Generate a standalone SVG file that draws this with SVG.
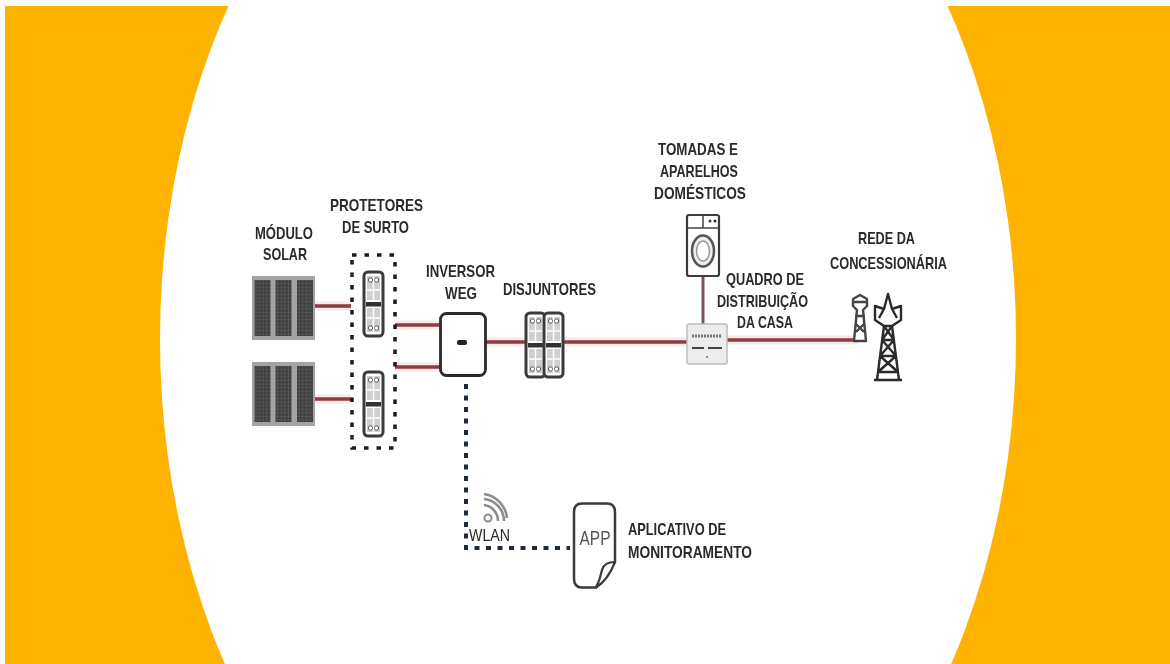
<svg xmlns="http://www.w3.org/2000/svg" width="1170" height="664" viewBox="0 0 1170 664">
<style>
.t{font-family:"Liberation Sans",Arial,sans-serif;font-size:17px;font-weight:700;fill:#2b2b2b;text-anchor:middle}
.red{stroke:#8f3a42;stroke-width:3.5;fill:none}
.halo{stroke:#f3dcdc;stroke-width:9;fill:none;opacity:.6}
.dot{stroke:#1d2b3a;stroke-width:4;fill:none;stroke-dasharray:5 6.5}
.thin{fill:none;stroke:#444;stroke-width:1.5}
</style>
<defs>
<filter id="soft" x="-5%" y="-5%" width="110%" height="110%"><feGaussianBlur stdDeviation="0.75"/></filter>
<pattern id="cells" width="3.6" height="3.6" patternUnits="userSpaceOnUse"><rect width="3.6" height="3.6" fill="#3f3f3f"/><path d="M0 0H3.6M0 0V3.6" stroke="#6a6a6a" stroke-width=".8"/></pattern>
<g id="panel">
<rect x="0" y="0" width="63" height="64" fill="#a3a3a3"/>
<rect x="2.500" y="4" width="16" height="56" fill="url(#cells)"/>
<rect x="23.500" y="4" width="16" height="56" fill="url(#cells)"/>
<rect x="45" y="4" width="16" height="56" fill="url(#cells)"/>
</g>
<g id="breaker">
<rect x="0" y="0" width="19" height="64" rx="4" fill="#fff" stroke="#3a3a3a" stroke-width="3"/>
<rect x="3" y="4" width="13" height="24" fill="#cfcfcf"/>
<rect x="3" y="36" width="13" height="24" fill="#cfcfcf"/>
<circle cx="6.500" cy="8" r="2.200" fill="#fff" stroke="#555"/>
<circle cx="12.500" cy="8" r="2.200" fill="#fff" stroke="#555"/>
<circle cx="6.500" cy="56" r="2.200" fill="#fff" stroke="#555"/>
<circle cx="12.500" cy="56" r="2.200" fill="#fff" stroke="#555"/>
<path d="M9.500 4V60M3 18H16M3 46H16" stroke="#fff" stroke-width="1.500"/>
<rect x="2" y="30" width="15" height="4.500" fill="#333"/>
</g>
</defs>
<rect width="1170" height="664" fill="#fff"/>
<rect id="band" x="5" y="6" width="1165" height="658" fill="#feb300"/>
<ellipse id="white-field" cx="588" cy="339" rx="428" ry="614" fill="#fff"/>
<rect width="1170" height="6" fill="#fff"/>
<g filter="url(#soft)">
<g id="connectors">
<path class="halo" d="M311 306H351M311 399H351M395 325H440M395 367H440M486 342H526M563 342H688M727 340H858"/>
<path class="red" d="M311 306H351M311 399H351M395 325H440M395 367H440M486 342H526M563 342H688M727 340H858"/>
<path d="M703 277V325" stroke="#7d5558" stroke-width="3" fill="none"/>
<path class="dot" d="M466 384V548H570"/>
</g>
<g id="modulo-solar">
<use href="#panel" x="252" y="276"/>
<use href="#panel" x="252" y="362"/>
<text class="t" x="284" y="239" textLength="58" lengthAdjust="spacingAndGlyphs">MÓDULO</text>
<text class="t" x="285" y="260" textLength="44" lengthAdjust="spacingAndGlyphs">SOLAR</text>
</g>
<g id="protetores">
<rect x="352" y="255" width="43" height="193" fill="none" stroke="#1a1a1a" stroke-width="3.500" stroke-dasharray="4.500 8"/>
<use href="#breaker" x="364" y="272"/>
<use href="#breaker" x="364" y="372"/>
<text class="t" x="376.500" y="211" textLength="93" lengthAdjust="spacingAndGlyphs">PROTETORES</text>
<text class="t" x="375.500" y="233" textLength="67" lengthAdjust="spacingAndGlyphs">DE SURTO</text>
</g>
<g id="inversor">
<rect x="440.500" y="313.500" width="45" height="62" rx="6" fill="#fff" stroke="#2c2c2c" stroke-width="2.800"/>
<rect x="457" y="340" width="10" height="5" rx="2" fill="#222"/>
<text class="t" x="460.500" y="277" textLength="69" lengthAdjust="spacingAndGlyphs">INVERSOR</text>
<text class="t" x="461" y="299" textLength="32" lengthAdjust="spacingAndGlyphs">WEG</text>
</g>
<g id="disjuntores">
<use href="#breaker" x="526" y="313"/>
<use href="#breaker" x="544" y="313"/>
<text class="t" x="549.500" y="295" textLength="93" lengthAdjust="spacingAndGlyphs">DISJUNTORES</text>
</g>
<g id="tomadas">
<rect x="687" y="215" width="32" height="61" rx="2" fill="#fff" stroke="#3a3a3a" stroke-width="2.200"/>
<path class="thin" d="M687 228H719M703 215V228"/>
<ellipse cx="703" cy="251" rx="11" ry="15.500" fill="#eee" stroke="#555" stroke-width="2.500"/>
<ellipse cx="703" cy="251" rx="6.500" ry="10" fill="#fff" stroke="#999" stroke-width="1.500"/>
<circle cx="710" cy="221" r="1.500" fill="#333"/>
<circle cx="715" cy="221" r="1.500" fill="#333"/>
<text class="t" x="698" y="155" textLength="80" lengthAdjust="spacingAndGlyphs">TOMADAS E</text>
<text class="t" x="699" y="177" textLength="78" lengthAdjust="spacingAndGlyphs">APARELHOS</text>
<text class="t" x="700" y="199" textLength="92" lengthAdjust="spacingAndGlyphs">DOMÉSTICOS</text>
</g>
<g id="quadro">
<rect x="687" y="324" width="40" height="40" rx="2" fill="#ececec" stroke="#bdbdbd" stroke-width="1.500"/>
<path d="M692 336H722" stroke="#777" stroke-width="3" stroke-dasharray="2 1"/>
<path d="M692 348H704M708 348H722" stroke="#444" stroke-width="2"/>
<circle cx="707" cy="357" r="1" fill="#777"/>
<text class="t" x="765" y="285" textLength="78" lengthAdjust="spacingAndGlyphs">QUADRO DE</text>
<text class="t" x="762.500" y="307" textLength="91" lengthAdjust="spacingAndGlyphs">DISTRIBUIÇÃO</text>
<text class="t" x="765" y="328" textLength="56" lengthAdjust="spacingAndGlyphs">DA CASA</text>
</g>
<g id="rede">
<path d="M854 341L857 310L853 306V299L860 295L867 299V306L863 310L866 341ZM855 316H865M856 324L864 332M864 324L856 332M853 302H867" fill="#fff" stroke="#444" stroke-width="2.400" stroke-linejoin="round"/>
<path d="M877 380L884 326L875 320V306L884 309L888 294L892 309L901 306V320L892 326L899 380ZM884 326H892M882 340H894M880 356H896M878 372H898M884 326L894 340M892 326L882 340M882 340L896 356M894 340L880 356M880 356L898 372M896 356L878 372M874 380H902M879 318L884 309M897 318L892 309" fill="none" stroke="#2b2b2b" stroke-width="2.400" stroke-linejoin="round"/>
<text class="t" x="886.500" y="244" textLength="57" lengthAdjust="spacingAndGlyphs">REDE DA</text>
<text class="t" x="888.500" y="269" textLength="117" lengthAdjust="spacingAndGlyphs">CONCESSIONÁRIA</text>
</g>
<g id="wlan">
<path d="M484 505A16 16 0 0 1 498 521M484 499A22 22 0 0 1 504 521M484 494A27 27 0 0 1 507 518" fill="none" stroke="#8c8c8c" stroke-width="2.500"/>
<circle cx="488" cy="518" r="3.500" fill="none" stroke="#8c8c8c" stroke-width="2"/>
<text class="t" x="489.500" y="541" textLength="41" lengthAdjust="spacingAndGlyphs" style="font-weight:400">WLAN</text>
</g>
<g id="app">
<path d="M582 503.500H607Q615 503.500 615 512V562L596 587.500H582Q574 587.500 574 579V512Q574 503.500 582 503.500Z" fill="#fff" stroke="#3a3a3a" stroke-width="2.500" stroke-linejoin="round"/>
<path d="M615 562Q604 562 602 570Q600 580 596 587.500Q608 580 615 562Z" fill="#fff" stroke="#3a3a3a" stroke-width="2.200" stroke-linejoin="round"/>
<text x="595" y="545" text-anchor="middle" textLength="31" lengthAdjust="spacingAndGlyphs" style="font-family:'Liberation Sans',Arial,sans-serif;font-size:20px;fill:#555">APP</text>
<text class="t" x="677" y="535" textLength="98" lengthAdjust="spacingAndGlyphs">APLICATIVO DE</text>
<text class="t" x="690" y="558" textLength="124" lengthAdjust="spacingAndGlyphs">MONITORAMENTO</text>
</g>
</g>
</svg>
